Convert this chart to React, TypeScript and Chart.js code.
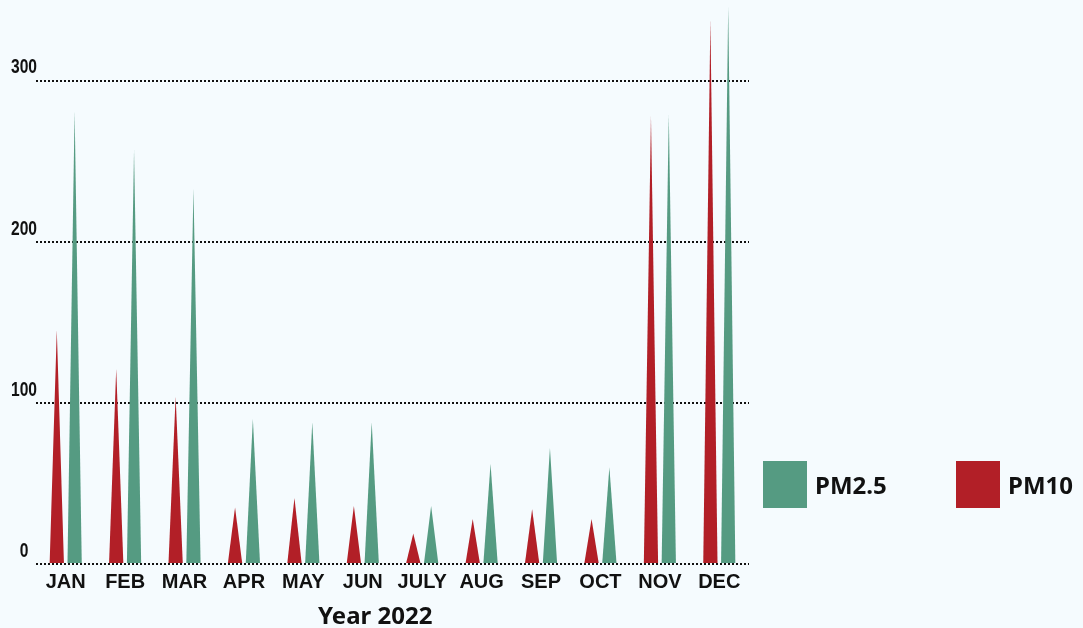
import React, { useEffect, useRef } from 'react';
import { Chart, registerables } from 'chart.js';

Chart.register(...registerables);

const months = ['JAN', 'FEB', 'MAR', 'APR', 'MAY', 'JUN', 'JULY', 'AUG', 'SEP', 'OCT', 'NOV', 'DEC'];
const pm10 = [145, 121, 104, 35, 41, 36, 19, 28, 34, 28, 278, 338];
const pm25 = [281, 257, 233, 90, 88, 88, 36, 62, 72, 60, 279, 346];
const yTicks = [0, 100, 200, 300];
const yMax = 350;
const xTitle = 'Year 2022';
const legendItems = [
  { label: 'PM2.5', color: '#559B82' },
  { label: 'PM10', color: '#B21F27' },
];

const RED = '#B21F27';
const GREEN = '#559B82';
const BG = '#F5FBFE';
const INK = '#111111';

const spikePlugin = {
  id: 'spikes',
  beforeDatasetDraw(chart: any, args: any) {
    const ctx = chart.ctx;
    ctx.save();
    for (const el of args.meta.data) {
      const { x, y, base, width } = el.getProps(['x', 'y', 'base', 'width'], true);
      ctx.fillStyle = el.options.backgroundColor;
      ctx.beginPath();
      ctx.moveTo(x - width / 2, base);
      ctx.lineTo(x, y);
      ctx.lineTo(x + width / 2, base);
      ctx.closePath();
      ctx.fill();
    }
    ctx.restore();
    return false;
  },
};

// condensed y tick labels, placed from the y scale
const yLabelPlugin = {
  id: 'yLabels',
  afterDraw(chart: any) {
    const s = chart.scales.y;
    const ctx = chart.ctx;
    ctx.save();
    ctx.font = 'bold 19.5px "Liberation Sans", Arial, sans-serif';
    ctx.fillStyle = INK;
    ctx.textAlign = 'center';
    ctx.textBaseline = 'middle';
    for (const t of s.ticks) {
      const py = s.getPixelForValue(t.value) - 12.5;
      ctx.save();
      ctx.translate(24, py);
      ctx.scale(0.8, 1);
      ctx.fillText(String(t.value), 0, 0);
      ctx.restore();
    }
    ctx.restore();
  },
};

export default function App() {
  const ref = useRef<HTMLCanvasElement | null>(null);

  useEffect(() => {
    if (!ref.current) return;
    const chart = new Chart(ref.current, {
      type: 'bar',
      data: {
        labels: months,
        datasets: [
          { label: 'PM10', data: pm10, backgroundColor: RED, barPercentage: 0.8, categoryPercentage: 0.6 },
          { label: 'PM2.5', data: pm25, backgroundColor: GREEN, barPercentage: 0.8, categoryPercentage: 0.6 },
        ],
      },
      options: {
        animation: false,
        responsive: false,
        maintainAspectRatio: false,
        layout: { padding: { left: 0, right: 334, top: 0, bottom: 28 } },
        plugins: {
          legend: { display: false },
          tooltip: { enabled: false },
          title: { display: false },
        },
        scales: {
          x: {
            grid: { display: false, drawTicks: false },
            border: { display: false },
            ticks: {
              color: INK,
              font: { family: '"Liberation Sans", Arial, sans-serif', weight: 'bold', size: 20 },
              padding: 6,
              maxRotation: 0,
              autoSkip: false,
            },
          },
          y: {
            min: 0,
            max: yMax,
            z: 1,
            afterBuildTicks: (s: any) => {
              s.ticks = yTicks.map((v) => ({ value: v }));
            },
            afterFit: (s: any) => {
              s.width = 36;
              s.paddingTop = 0;
              s.paddingBottom = 0;
            },
            grid: { color: INK, lineWidth: 2, drawTicks: false },
            border: { display: false, dash: [2, 2] },
            ticks: { display: false },
          },
        },
      } as any,
      plugins: [spikePlugin as any, yLabelPlugin as any],
    });
    return () => chart.destroy();
  }, []);

  return (
    <div style={{ position: 'fixed', left: 0, top: 0, width: 1083, height: 628, background: BG, overflow: 'hidden' }}>
      <canvas ref={ref} width={1083} height={628} style={{ position: 'absolute', left: 0, top: 0, width: 1083, height: 628 }} />
      <div
        style={{
          position: 'absolute', left: 318, top: 603, fontFamily: '"Noto Sans", "Open Sans", sans-serif',
          fontWeight: 700, fontSize: 24, lineHeight: '24px', color: INK, whiteSpace: 'nowrap',
        }}
      >
        {xTitle}
      </div>
      {legendItems.map((it, i) => (
        <div key={it.label} style={{ position: 'absolute', left: 763 + i * 193, top: 461, height: 47, display: 'flex', alignItems: 'center' }}>
          <div style={{ width: 44, height: 47, background: it.color }} />
          <div
            style={{
              marginLeft: 8, fontFamily: '"Noto Sans", "Open Sans", sans-serif', fontWeight: 700, fontSize: 24,
              lineHeight: '24px', color: INK, whiteSpace: 'nowrap',
            }}
          >
            {it.label}
          </div>
        </div>
      ))}
    </div>
  );
}
